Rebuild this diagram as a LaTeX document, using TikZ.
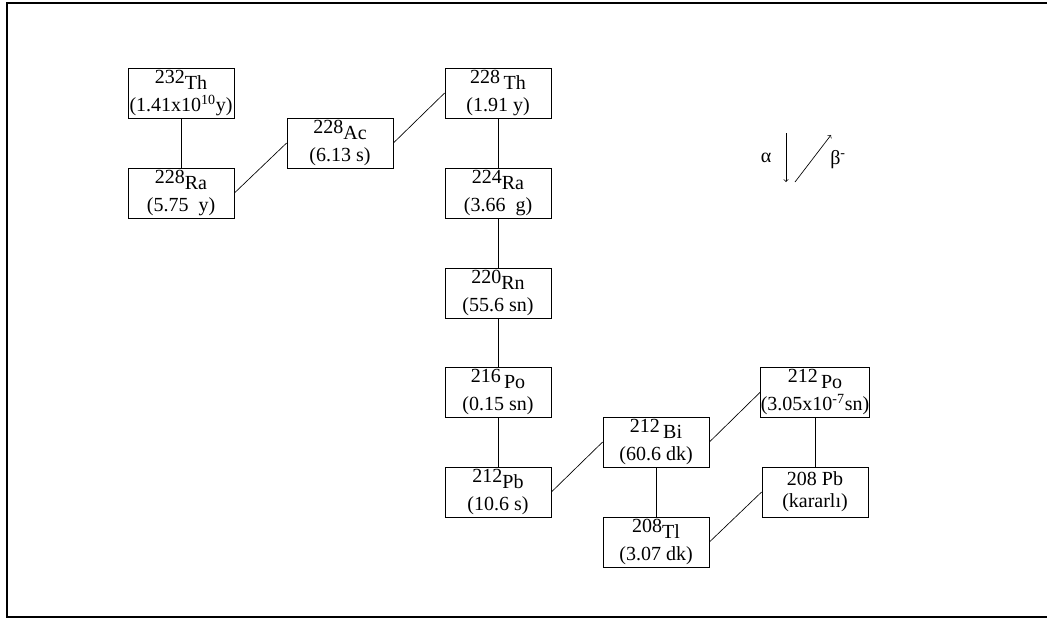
\documentclass[tikz,border=0pt]{standalone}
\usepackage{fontspec}
\setmainfont{Liberation Serif}
\newcommand{\nuc}[2]{\raisebox{0.3em}{#1}#2}
\tikzset{
  nucbox/.style={draw, line width=0.6pt, minimum width=79.5pt, minimum height=37.5pt,
    inner sep=0pt, align=center, font=\fontsize{15}{16.5}\selectfont},
  decay/.style={line width=0.5pt}
}

\begin{document}
\begin{tikzpicture}[x=0.75pt,y=-0.75pt]
                \useasboundingbox (0,0) rectangle (1047,619);
                \draw[line width=1.5pt] (1047,3) -- (7,3) -- (7,617) -- (1047,617); % frame
                % thorium series
                \node[nucbox] (th232) at (181,93) {\nuc{232}{Th}\\(1.41x10\textsuperscript{10}y)};
                \node[nucbox] (ra228) at (181,193) {\nuc{228}{Ra}\\(5.75\ \ y)};
                \node[nucbox] (ac228) at (340,143) {\nuc{228}{Ac}\\(6.13 s)};
                \node[nucbox] (th228) at (498,93) {\nuc{228}{\,Th}\\(1.91 y)};
                \node[nucbox] (ra224) at (498,193) {\nuc{224}{Ra}\\(3.66\ \ g)};
                \node[nucbox] (rn220) at (498,293) {\nuc{220}{Rn}\\(55.6 sn)};
                \node[nucbox] (po216) at (498,392) {\nuc{216}{\,Po}\\(0.15 sn)};
                \node[nucbox] (pb212) at (498,492) {\nuc{212}{Pb}\\(10.6 s)};
                \node[nucbox] (bi212) at (656,442) {\nuc{212}{\,Bi}\\(60.6 dk)};
                \node[nucbox] (tl208) at (656,542) {\nuc{208}{Tl}\\(3.07 dk)};
                \node[nucbox] (po212) at (815,392) {\nuc{212}{\,Po}\\(3.05x10\textsuperscript{-7}sn)};
                \node[nucbox] (pb208) at (815,492) {208 Pb\\(kararlı)};
                % alpha steps
                \draw[decay] (th232) -- (ra228);
                \foreach \a/\b in {th228/ra224,ra224/rn220,rn220/po216,po216/pb212,bi212/tl208,po212/pb208}
                \draw[decay] (\a.south) -- (\b.north);
                % beta steps
                \foreach \a/\b in {ra228/ac228,ac228/th228,pb212/bi212,bi212/po212,tl208/pb208}
                \draw[decay] (\a.east) -- (\b.west);
                % legend
                \node[font=\fontsize{15}{18}\selectfont] (alpha) at (766,158) {α};
                \node[font=\fontsize{15}{18}\selectfont] (beta) at (838,160) {β\textsuperscript{-}};
                \coordinate (a1) at (786,133);
                \coordinate (a2) at (786,182);
                \coordinate (b1) at (795,182);
                \coordinate (b2) at (831,135);
                \draw[decay,->] (a1) -- (a2);
                \draw[decay,->] (b1) -- (b2);
                \end{tikzpicture}
\end{document}
